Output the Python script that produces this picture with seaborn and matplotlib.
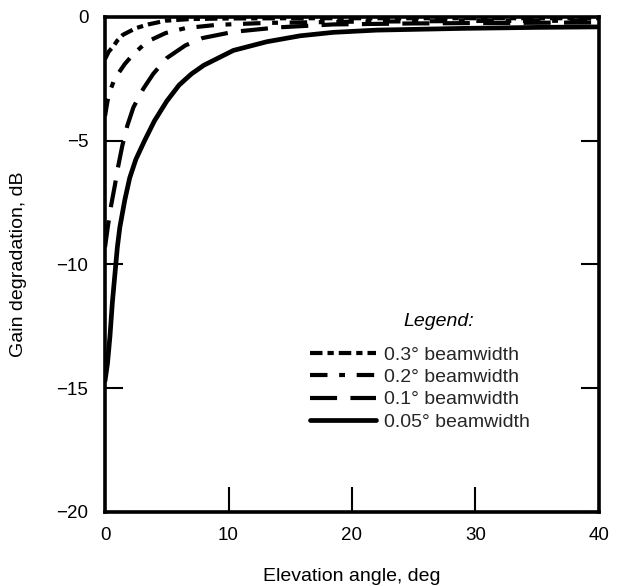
import matplotlib
matplotlib.use("Agg")
import matplotlib.pyplot as plt
import seaborn as sns
import pandas as pd

sns.set_theme(style="white")
plt.rcParams['font.family'] = ['Liberation Sans', 'DejaVu Sans']

# Data
x_005 = [0, 0.2, 0.4, 0.6, 0.8, 1.0, 1.2, 1.6, 2.0, 2.5, 3.2, 4.0, 5.0, 6.0, 7.0, 8.0, 9.0,
         10.4, 13.1, 15.8, 18.5, 22, 29, 35, 40]
y_005 = [-14.7, -14.0, -12.9, -11.5, -10.4, -9.3, -8.5, -7.4, -6.5, -5.75, -5.0, -4.2, -3.4,
         -2.75, -2.3, -1.95, -1.7, -1.35, -1.0, -0.76, -0.62, -0.53, -0.46, -0.42, -0.4]

x_01 = [0, 0.25, 0.5, 0.8, 1.0, 1.4, 1.8, 2.3, 3.1, 3.9, 5.0, 6.5, 7.9, 10.4, 14, 18.5, 25, 32, 40]
y_01 = [-9.3, -8.4, -7.6, -6.8, -6.2, -5.2, -4.4, -3.65, -2.9, -2.3, -1.66, -1.15, -0.85,
        -0.6, -0.42, -0.3, -0.26, -0.24, -0.22]

x_02 = [0, 0.2, 0.4, 0.7, 1.05, 1.6, 2.3, 3.4, 4.9, 6.5, 9, 13, 20, 30, 40]
y_02 = [-4.0, -3.4, -3.0, -2.6, -2.3, -1.9, -1.5, -1.0, -0.65, -0.45, -0.32, -0.24, -0.19,
        -0.16, -0.15]

x_03 = [0, 0.3, 0.65, 1.0, 1.45, 2.5, 3.5, 4.9, 7, 10, 15, 25, 40]
y_03 = [-1.7, -1.4, -1.2, -0.95, -0.72, -0.45, -0.3, -0.15, -0.08, -0.06, -0.05, -0.05, -0.05]

labels = ["0.3° beamwidth", "0.2° beamwidth", "0.1° beamwidth", "0.05° beamwidth"]
x_ticks = [0, 10, 20, 30, 40]
y_ticks = [0, -5, -10, -15, -20]
y_ticklabels = ["0", "\u22125", "\u221210", "\u221215", "\u221220"]

series = [
    (x_03, y_03, labels[0], (0, (3.0, 1.2, 1.5, 1.2)), 3.0),
    (x_02, y_02, labels[1], (0, (4.2, 2.8, 1.4, 2.8)), 3.0),
    (x_01, y_01, labels[2], (0, (6.5, 3.2)), 3.0),
    (x_005, y_005, labels[3], "solid", 3.4),
]

fig = plt.figure(figsize=(6.17, 5.86), dpi=100)
ax = fig.add_axes([0.1702, 0.1263, 0.8006, 0.8447])

for xs, ys, lab, ls, lw in series:
    df = pd.DataFrame({"x": xs, "y": ys})
    sns.lineplot(data=df, x="x", y="y", ax=ax, color="black", linewidth=lw,
                 linestyle=ls, label=lab, sort=True)

ax.set_xlim(0, 40)
ax.set_ylim(-20, 0)
ax.set_xticks(x_ticks)
ax.set_yticks(y_ticks)
ax.set_yticklabels(y_ticklabels)
ax.tick_params(axis="both", direction="in", width=1.5, colors="black", labelsize=13.5)
ax.tick_params(axis="x", length=18, pad=11, top=False, bottom=True)
ax.tick_params(axis="y", length=13, pad=12, left=True, right=True)
for sp in ax.spines.values():
    sp.set_color("black")
    sp.set_linewidth(2.6)

ax.set_xlabel("Elevation angle, deg", fontsize=14, color="black")
ax.set_ylabel("Gain degradation, dB", fontsize=14, color="black")
ax.xaxis.set_label_coords(0.5, -0.113)
ax.yaxis.set_label_coords(-0.158, 0.5)

leg = ax.legend(loc="upper left", bbox_to_anchor=(0.415, 0.335), frameon=False,
                fontsize=14, handlelength=3.4, handletextpad=0.4,
                labelspacing=0.24, borderaxespad=0, borderpad=0)
ax.text(0.676, 0.385, "Legend:", transform=ax.transAxes, fontsize=14,
        fontstyle="italic", ha="center", va="center", color="black")

fig.savefig("out.png", dpi=100)
